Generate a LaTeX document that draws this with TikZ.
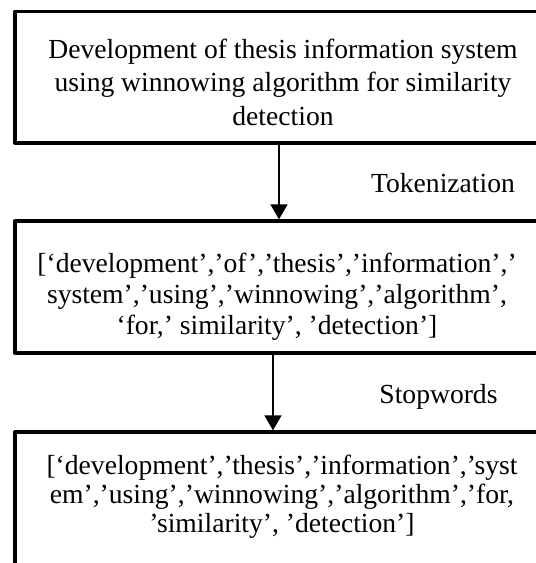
\documentclass[tikz,border=0pt]{standalone}
\usepackage{fontspec}
\setmainfont{Liberation Serif}
\usetikzlibrary{arrows.meta, positioning}
\tikzset{every path/.style={line cap=round, line join=round}, >={Triangle[length=15pt, width=17pt]}}

\begin{document}
\begin{tikzpicture}[
    x=1pt, y=-1pt,
    box/.style={
        draw,
        line width=3.3pt,
        minimum width=541pt,
        inner sep=0pt
    },
    txt/.style={
        align=center,
        inner sep=0pt,
        font=\fontsize{27.6}{31}\selectfont
    },
    lbl/.style={
        inner sep=0pt,
        font=\fontsize{27.6}{31}\selectfont
    },
    arrow/.style={
        ->,
        line width=1.5pt
    }
]

\useasboundingbox (0,0) rectangle (536,563);

\node[box, minimum height=131.5pt] (b1) at (285.5,77.25) {};
\node[box, minimum height=132pt] (b2) at (285.5,287) {};
\node[box, minimum height=160pt] (b3) at (285.5,512) {};

\node[txt, font=\fontsize{27.6}{33.5}\selectfont] (t1) at (283,82) {Development of thesis information system\\using winnowing algorithm for similarity\\detection};
\node[txt] (t2) at (277,296.5) {[‘development’,’of’,’thesis’,’information’,’\\system’,’using’,’winnowing’,’algorithm’,\\‘for,’ similarity’, ’detection’]};
\node[txt, font=\fontsize{27.6}{29}\selectfont] (t3) at (282,496.5) {[‘development’,’thesis’,’information’,’syst\\em’,’using’,’winnowing’,’algorithm’,’for,\\’similarity’, ’detection’]};

\node[lbl] (l1) at (443,183) {Tokenization};
\node[lbl] (l2) at (438.5,397) {Stopwords};

\draw[arrow] ([xshift=-6.5pt]b1.south) -- ([xshift=-6.5pt]b1.south |- b2.north);
\draw[arrow] ([xshift=-12.5pt]b2.south) -- ([xshift=-12.5pt]b2.south |- b3.north);

\end{tikzpicture}
\end{document}
